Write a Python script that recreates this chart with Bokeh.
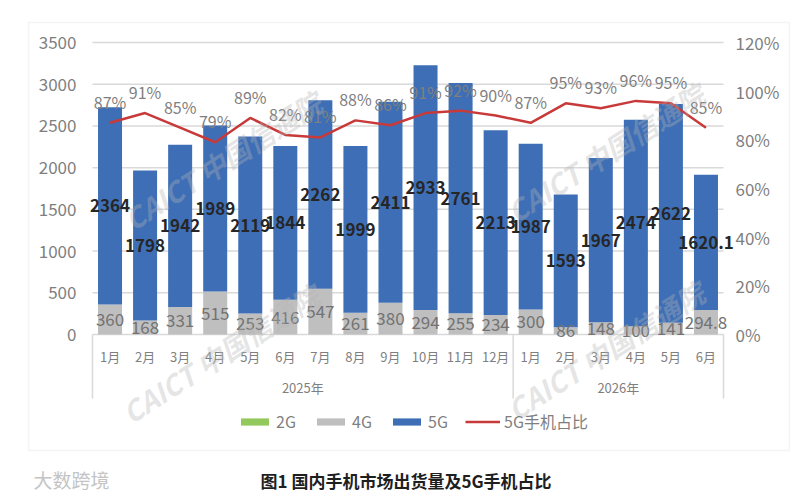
from bokeh.plotting import figure
from bokeh.models import (Range1d, LinearAxis, FixedTicker, NumeralTickFormatter,
                          Legend, LegendItem, BoxAnnotation, Label, ColumnDataSource)
from bokeh.core.properties import value
from bokeh.embed import file_html
from bokeh.resources import INLINE

# ---------------- data ----------------
months = ["1月", "2月", "3月", "4月", "5月", "6月", "7月", "8月", "9月", "10月", "11月", "12月",
          "1月", "2月", "3月", "4月", "5月", "6月"]
years = ["2025年"] * 12 + ["2026年"] * 6
g2 = [0] * 18
g4 = [360, 168, 331, 515, 253, 416, 547, 261, 380, 294, 255, 234,
      300, 86, 148, 100, 141, 294.8]
g5 = [2364, 1798, 1942, 1989, 2119, 1844, 2262, 1999, 2411, 2933, 2761, 2213,
      1987, 1593, 1967, 2474, 2622, 1620.1]
share = [0.87, 0.91, 0.85, 0.79, 0.89, 0.82, 0.81, 0.88, 0.86, 0.91, 0.92, 0.90,
         0.87, 0.95, 0.93, 0.96, 0.95, 0.85]
left_ticks = [0, 500, 1000, 1500, 2000, 2500, 3000, 3500]
right_ticks = [0, 0.2, 0.4, 0.6, 0.8, 1.0, 1.2]
series_names = ["2G", "4G", "5G"]
line_name = "5G手机占比"
caption = "图1  国内手机市场出货量及5G手机占比"
watermark = "大数跨境"
stamp = "CAICT 中国信通院"

# ---------------- layout / styles ----------------
FONT = "Noto Sans CJK SC"
C2G, C4G, C5G, CLINE = "#92c85c", "#bfbfbf", "#3e6fb6", "#c83a3a"
GRAY = "#7f7f7f"
GRID = "#d9d9d9"
W, H = 800, 497
PL, PR = 92, 723          # px: left / right edge of the plotting area
PT, PB = 42, 334          # px: y of top tick line / zero line

n = len(months)
xs = list(range(n))
UX = n / (PR - PL)
UY = (left_ticks[-1] - left_ticks[0]) / (PB - PT)
px2x = lambda px: -0.5 + (px - PL) * UX       # screen px -> data (layout helpers)
py2y = lambda py: (PB - py) * UY

mid4 = [a + b / 2 for a, b in zip(g2, g4)]
mid5 = [a + b + c / 2 for a, b, c in zip(g2, g4, g5)]
fmt = lambda v: f"{v:g}"

src = ColumnDataSource(dict(x=xs, g2=g2, g4=g4, g5=g5, share=share,
                            mid4=mid4, mid5=mid5,
                            t4=[fmt(v) for v in g4], t5=[fmt(v) for v in g5],
                            tp=[f"{round(s * 100)}%" for s in share]))

y0, y1 = py2y(H), py2y(0)
p = figure(width=W, height=H, output_backend="svg", toolbar_location=None,
           x_range=Range1d(px2x(0), px2x(W)), y_range=Range1d(y0, y1),
           x_axis_type=None, y_axis_type=None,
           min_border_left=0, min_border_right=0, min_border_top=0, min_border_bottom=0)
p.outline_line_color = None
p.background_fill_color = "white"
p.border_fill_color = "white"
k = (right_ticks[-1] - right_ticks[0]) / (left_ticks[-1] - left_ticks[0])
p.extra_y_ranges = {"pct": Range1d(right_ticks[0] + y0 * k, right_ticks[0] + y1 * k)}

# outer chart box
p.add_layout(BoxAnnotation(left=px2x(28), right=px2x(789), top=py2y(22), bottom=py2y(450),
                           fill_alpha=0, line_color="#dcdcdc", line_width=1.5,
                           level="underlay"))

# horizontal grid lines across the plotting area only
p.segment(x0=[-0.5] * len(left_ticks), x1=[n - 0.5] * len(left_ticks),
          y0=left_ticks, y1=left_ticks, line_color=GRID, line_width=1.5)

bars = p.vbar_stack(["g2", "g4", "g5"], x="x", width=0.685, source=src,
                    fill_color=[C2G, C4G, C5G], line_color=None)
ln = p.line("x", "share", source=src, y_range_name="pct", line_color=CLINE, line_width=2.5)

p.text("x", "mid4", text="t4", source=src, text_align="center", text_baseline="middle",
       text_font=value(FONT), text_font_size="17px", text_color="#737373")
p.text("x", "mid5", text="t5", source=src, text_align="center", text_baseline="middle",
       text_font=value(FONT), text_font_size="17px", text_font_style="bold", text_color="#262626")
p.text("x", "share", text="tp", source=src, y_range_name="pct", y_offset=-21,
       text_align="center", text_baseline="middle",
       text_font=value(FONT), text_font_size="16px", text_color=GRAY)

# value axes, pinned to the edges of the plotting area
p.add_layout(LinearAxis(ticker=FixedTicker(ticks=left_ticks), fixed_location=-0.5,
                        axis_line_color=None,
                        major_tick_line_color=None, minor_tick_line_color=None,
                        major_tick_out=0, major_tick_in=0, major_label_standoff=16,
                        major_label_text_font=FONT, major_label_text_font_size="17px",
                        major_label_text_color=GRAY), "left")
p.add_layout(LinearAxis(y_range_name="pct", ticker=FixedTicker(ticks=right_ticks),
                        fixed_location=n - 0.5,
                        formatter=NumeralTickFormatter(format="0%"), axis_line_color=None,
                        major_tick_line_color=None, minor_tick_line_color=None,
                        major_tick_out=0, major_tick_in=0, major_label_standoff=12,
                        major_label_text_font=FONT, major_label_text_font_size="17px",
                        major_label_text_color=GRAY), "right")

# two-level category axis (months / years) with group separators
bounds = [-0.5] + [i - 0.5 for i in range(1, n) if years[i] != years[i - 1]] + [n - 0.5]
ylabels = []
for y in years:
    if y not in ylabels:
        ylabels.append(y)
centers = [sum(i for i in xs if years[i] == y) / years.count(y) for y in ylabels]

p.segment(x0=bounds, y0=[0] * len(bounds), x1=bounds, y1=[py2y(398)] * len(bounds),
          line_color=GRID, line_width=1.5)
p.text(xs, [py2y(356)] * n, text=months, text_align="center", text_baseline="middle",
       text_font=value(FONT), text_font_size="13px", text_color=GRAY)
p.text(centers, [py2y(387)] * len(centers), text=ylabels, text_align="center",
       text_baseline="middle", text_font=value(FONT), text_font_size="13px", text_color=GRAY)

legend = Legend(items=[LegendItem(label=series_names[0], renderers=[bars[0]]),
                       LegendItem(label=series_names[1], renderers=[bars[1]]),
                       LegendItem(label=series_names[2], renderers=[bars[2]]),
                       LegendItem(label=line_name, renderers=[ln])],
                orientation="horizontal", location=(237, H - 423 - 10),
                glyph_width=35, glyph_height=9, label_standoff=4, spacing=17,
                padding=0, margin=0, border_line_color=None, background_fill_alpha=0,
                label_height=20, label_text_font=FONT, label_text_font_size="16px",
                label_text_color=GRAY)
p.add_layout(legend, "center")

# faint diagonal watermarks over the chart
for cx, cy in [(222, 160), (220, 353), (605, 152), (605, 350)]:
    p.add_layout(Label(x=px2x(cx), y=py2y(cy), text=stamp, angle=0.57,
                       text_align="center", text_baseline="middle", text_font=FONT,
                       text_font_size="28px", text_font_style="bold italic",
                       text_color="#b4b4b4", text_alpha=0.35, level="overlay"))

# caption and source mark below the chart box
p.text([(n - 1) / 2], [py2y(480)], text=[caption], text_align="center",
       text_baseline="middle", text_font=value(FONT), text_font_size="17px",
       text_font_style="bold", text_color="#1f1f1f")
p.add_layout(Label(x=px2x(33), y=py2y(479), text=watermark,
                   text_baseline="middle", text_font=FONT, text_font_size="19px",
                   text_color="#c4c4c4"))

open("out.html", "w").write(file_html(p, INLINE))
